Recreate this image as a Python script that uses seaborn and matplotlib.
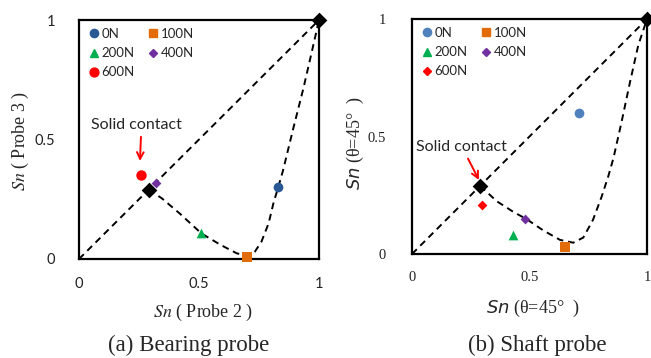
import numpy as np
import pandas as pd
import matplotlib
matplotlib.use("Agg")
import matplotlib.pyplot as plt
from matplotlib.lines import Line2D
import seaborn as sns

# --- data ---
loads = ["0N", "100N", "200N", "400N", "600N"]

# (a) bearing probe
bear_x = [0.83, 0.70, 0.51, 0.32, 0.26]
bear_y = [0.30, 0.01, 0.11, 0.32, 0.35]
# (b) shaft probe
shaft_x = [0.71, 0.65, 0.43, 0.48, 0.30]
shaft_y = [0.60, 0.03, 0.08, 0.15, 0.21]

# black reference diamonds (solid contact / no contact)
ref_bear_x = [0.29, 1.0]
ref_bear_y = [0.29, 1.0]
ref_shaft_x = [0.29, 1.0]
ref_shaft_y = [0.29, 1.0]

# diagonal dashed line
diag_x = [0.0, 1.0]
diag_y = [0.0, 1.0]

# dashed curves
bear_curve_x = [0.29, 0.345, 0.42, 0.51, 0.59, 0.657, 0.70, 0.733, 0.76, 0.79,
                0.81, 0.83, 0.85, 0.893, 0.935, 0.97, 1.0]
bear_curve_y = [0.29, 0.254, 0.19, 0.107, 0.059, 0.024, 0.013, 0.031, 0.072, 0.149,
                0.233, 0.30, 0.37, 0.547, 0.714, 0.867, 1.0]
shaft_curve_x = [0.29, 0.36, 0.43, 0.488, 0.559, 0.63, 0.686, 0.729, 0.77, 0.807,
                 0.835, 0.857, 0.892, 0.928, 0.963, 1.0]
shaft_curve_y = [0.29, 0.225, 0.18, 0.148, 0.10, 0.06, 0.048, 0.07, 0.145, 0.244,
                 0.33, 0.407, 0.563, 0.733, 0.889, 1.0]

ticks = [0, 0.5, 1]
tick_labels = ["0", "0.5", "1"]

# --- styles ---
bear_colors = {"0N": "#2A5894", "100N": "#E36C0A", "200N": "#00B050",
               "400N": "#7030A0", "600N": "#FF0000"}
shaft_colors = {"0N": "#4F81BD", "100N": "#E36C0A", "200N": "#00B050",
                "400N": "#7030A0", "600N": "#FF0000"}
bear_markers = {"0N": "o", "100N": "s", "200N": "^", "400N": "D", "600N": "o"}
shaft_markers = {"0N": "o", "100N": "s", "200N": "^", "400N": "D", "600N": "D"}
bear_sizes = {"0N": 7, "100N": 7, "200N": 7, "400N": 5, "600N": 7.5}
shaft_sizes = {"0N": 7, "100N": 7, "200N": 7, "400N": 5, "600N": 5}

sns.set_style("white")

fig = plt.figure(figsize=(6.51, 3.58), dpi=100)
ax1 = fig.add_axes([79 / 651, 1 - 259 / 358, 240 / 651, 239 / 358])
ax2 = fig.add_axes([412 / 651, 1 - 254 / 358, 235 / 651, 235 / 358])


def draw_panel(ax, px, py, rx, ry, cx, cy, colors, markers, sizes, tick_font):
    dash = dict(color="black", linewidth=1.4, dashes=(3.5, 2.5))
    line_df = pd.DataFrame({"x": diag_x, "y": diag_y})
    sns.lineplot(data=line_df, x="x", y="y", ax=ax, sort=False, **dash)
    curve_df = pd.DataFrame({"x": cx, "y": cy})
    sns.lineplot(data=curve_df, x="x", y="y", ax=ax, sort=False, **dash)

    df = pd.DataFrame({"x": px, "y": py, "load": loads})
    for lab in loads:
        sub = df[df["load"] == lab]
        sns.scatterplot(data=sub, x="x", y="y", ax=ax, color=colors[lab],
                        marker=markers[lab], s=sizes[lab] ** 2, linewidth=0,
                        zorder=5, clip_on=False, legend=False)
    ref_df = pd.DataFrame({"x": rx, "y": ry})
    sns.scatterplot(data=ref_df, x="x", y="y", ax=ax, color="black", marker="D",
                    s=64, linewidth=0, zorder=6, clip_on=False, legend=False)

    ax.set_xlim(0, 1)
    ax.set_ylim(0, 1)
    ax.set_xticks(ticks)
    ax.set_yticks(ticks)
    ax.set_xticklabels(tick_labels, **tick_font)
    ax.set_yticklabels(tick_labels, **tick_font)
    ax.tick_params(axis="both", direction="out", length=3, width=0.8,
                   color="#A0A0A0", labelcolor="#222222")
    ax.set_xlabel("")
    ax.set_ylabel("")
    for sp in ax.spines.values():
        sp.set_color("black")
        sp.set_linewidth(1.6)

    order = ["0N", "200N", "600N", "100N", "400N"]
    handles = [Line2D([], [], linestyle="none", marker=markers[k],
                      color=colors[k], markersize=sizes[k] * 0.85) for k in order]
    ax.legend(handles, order, ncol=2, loc="upper left", frameon=False,
              prop={"family": "Lato", "size": 9.5}, handletextpad=0.1,
              columnspacing=0.9, labelspacing=0.55, handlelength=1.0,
              borderaxespad=0.2, bbox_to_anchor=(0.0, 1.0))


draw_panel(ax1, bear_x, bear_y, ref_bear_x, ref_bear_y, bear_curve_x, bear_curve_y,
           bear_colors, bear_markers, bear_sizes,
           {"family": "Lato", "fontsize": 10.5})
ax1.tick_params(axis="x", pad=10)
ax1.tick_params(axis="y", pad=14)

draw_panel(ax2, shaft_x, shaft_y, ref_shaft_x, ref_shaft_y, shaft_curve_x, shaft_curve_y,
           shaft_colors, shaft_markers, shaft_sizes,
           {"family": "Liberation Serif", "fontsize": 10.5})
ax2.tick_params(axis="x", pad=9)
ax2.tick_params(axis="y", pad=16)

# annotations
ax1.annotate("Solid contact", xy=(0.254, 0.41), xytext=(0.24, 0.56),
             ha="center", va="center", fontsize=11.5, family="Lato",
             arrowprops=dict(arrowstyle="->", color="red", lw=1.4,
                             shrinkA=1, shrinkB=0, mutation_scale=12,
                             relpos=(0.55, 0.0)))
ax2.annotate("Solid contact", xy=(0.285, 0.315), xytext=(0.209, 0.455),
             ha="center", va="center", fontsize=11.5, family="Lato",
             arrowprops=dict(arrowstyle="->", color="red", lw=1.4,
                             shrinkA=1, shrinkB=0, mutation_scale=12,
                             relpos=(0.55, 0.0)))

# axis labels
serif = {"family": "Liberation Serif", "math_fontfamily": "stix"}
fig.text(203 / 651, 1 - 312 / 358, r"$\mathit{Sn}$ ( Probe 2 )", ha="center",
         va="center", fontsize=13, **serif)
fig.text(20 / 651, 1 - 141 / 358, r"$\mathit{Sn}$ ( Probe 3 )", ha="center",
         va="center", fontsize=13, rotation=90, **serif)
sans = {"family": "Liberation Serif", "math_fontfamily": "dejavusans"}
fig.text(533 / 651, 1 - 308 / 358, r"$\mathit{Sn}$ (θ=45°  )", ha="center",
         va="center", fontsize=13, **sans)
fig.text(355 / 651, 1 - 143 / 358, r"$\mathit{Sn}$ (θ=45°  )", ha="center",
         va="center", fontsize=13, rotation=90, **sans)

# captions
fig.text(189 / 651, 1 - 345 / 358, "(a) Bearing probe", ha="center", va="center",
         fontsize=16.5, family="Liberation Serif")
fig.text(537 / 651, 1 - 345 / 358, "(b) Shaft probe", ha="center", va="center",
         fontsize=16.5, family="Liberation Serif")

fig.savefig("out.png", dpi=100)
